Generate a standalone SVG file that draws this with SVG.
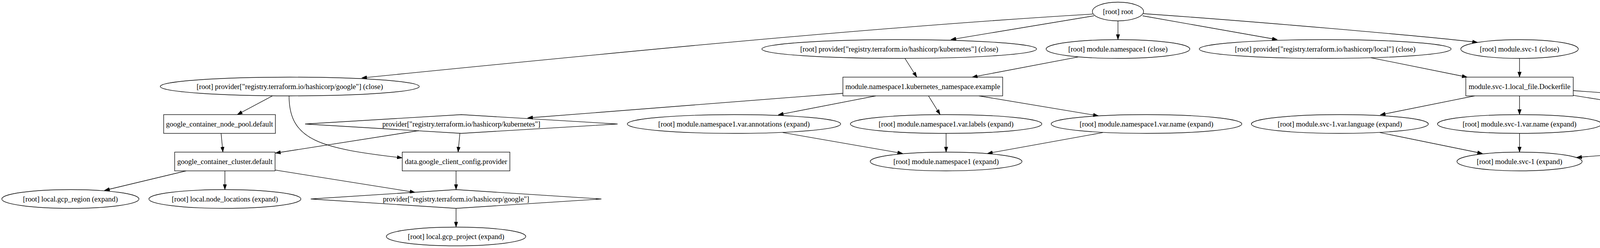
<svg xmlns="http://www.w3.org/2000/svg" width="5354" height="635" viewBox="0 0 5354 635">
<style>
.n ellipse,.n rect,.n polygon{fill:none;stroke:#000;stroke-width:1.33}
.n text{font-family:"Liberation Serif","Times New Roman",serif;font-size:18.67px;text-anchor:middle;fill:#000}
.e path{fill:none;stroke:#000;stroke-width:1.33;marker-end:url(#ah)}
</style>
<defs>
<marker id="ah" viewBox="0 0 10 7" refX="10" refY="3.5" markerWidth="13.3" markerHeight="9.3" markerUnits="userSpaceOnUse" orient="auto">
<path d="M0,0 L10,3.5 L0,7 z" fill="#000" stroke="#000" stroke-width="0.5"/>
</marker>
</defs>
<rect width="5354" height="635" fill="#fff"/>
<g id="edges" class="e">
<path d="M2797,36 C2197,72 1526,139.5 926,199.5"/>
<path d="M2800.5,40.5 L2434.3,101.3"/>
<path d="M2862,53.5 L2862,101.5"/>
<path d="M2925,40.5 L3270,101.5"/>
<path d="M2927,35 C3200,54 3650,92.6 3782.5,108.5"/>
<path d="M697.4,245.5 L607.3,293.5"/>
<path d="M740,245.5 C740,360 820,380 1029.7,404.2"/>
<path d="M566,341.5 L570.6,389.5"/>
<path d="M1072,334.5 L705,392"/>
<path d="M1177.3,341.5 L1172.7,389.5"/>
<path d="M476.4,437.5 L267.5,487.5"/>
<path d="M575.7,437.5 L575.7,485.5"/>
<path d="M704.3,435.4 L1062.4,492.5"/>
<path d="M1167.5,437.5 L1167.5,485.5"/>
<path d="M1167.5,533.5 L1167.5,581.5"/>
<path d="M2157.6,239 L1350.6,302"/>
<path d="M2316.6,149.5 L2347,197.5"/>
<path d="M2760.3,145.8 L2488.8,197.5"/>
<path d="M2242,245.5 L1992.3,294"/>
<path d="M2376.9,245.5 L2406.7,293.5"/>
<path d="M2506,245.5 L2811.9,296.5"/>
<path d="M2003.8,339.4 L2310.9,392.9"/>
<path d="M2422,341.5 L2422,389.5"/>
<path d="M2823.4,339.4 L2527.8,392.9"/>
<path d="M3509.4,147.8 L3756,197.5"/>
<path d="M3890,149.5 L3890,197.5"/>
<path d="M3775,245.5 L3533.5,294"/>
<path d="M3890,245.5 L3890,293.5"/>
<path d="M4027.6,244.2 L4377.8,300"/>
<path d="M4027.6,232 L4933.3,299"/>
<path d="M3532.4,339.4 L3795.2,393"/>
<path d="M3890,341.5 L3890,389.5"/>
<path d="M4936.2,334.5 L4036.3,403"/>
</g>
<g id="root" class="n"><ellipse cx="2862" cy="29.5" rx="65.5" ry="24"/><text x="2862" y="35.5">[root] root</text></g>
<g id="provider_google_close" class="n"><ellipse cx="741.8" cy="221.5" rx="331.5" ry="24"/><text x="741.8" y="227.5">[root] provider["registry.terraform.io/hashicorp/google"] (close)</text></g>
<g id="provider_kubernetes_close" class="n"><ellipse cx="2302" cy="125.5" rx="351.6" ry="24"/><text x="2302" y="131.5">[root] provider["registry.terraform.io/hashicorp/kubernetes"] (close)</text></g>
<g id="namespace1_close" class="n"><ellipse cx="2862" cy="125.5" rx="184" ry="24"/><text x="2862" y="131.5">[root] module.namespace1 (close)</text></g>
<g id="provider_local_close" class="n"><ellipse cx="3392.5" cy="125.5" rx="322.3" ry="24"/><text x="3392.5" y="131.5">[root] provider["registry.terraform.io/hashicorp/local"] (close)</text></g>
<g id="svc1_close" class="n"><ellipse cx="3890" cy="125.5" rx="150.4" ry="24"/><text x="3890" y="131.5">[root] module.svc-1 (close)</text></g>
<g id="node_pool" class="n"><rect x="419" y="293.5" width="286" height="48"/><text x="562" y="323.5">google_container_node_pool.default</text></g>
<g id="provider_kubernetes" class="n"><polygon points="1181,293.5 1581,317.5 1181,341.5 781,317.5"/><text x="1181" y="323.5">provider["registry.terraform.io/hashicorp/kubernetes"]</text></g>
<g id="var_annotations" class="n"><ellipse cx="1879" cy="317.5" rx="273" ry="24"/><text x="1879" y="323.5">[root] module.namespace1.var.annotations (expand)</text></g>
<g id="var_labels" class="n"><ellipse cx="2422" cy="317.5" rx="245" ry="24"/><text x="2422" y="323.5">[root] module.namespace1.var.labels (expand)</text></g>
<g id="var_name" class="n"><ellipse cx="2935" cy="317.5" rx="244" ry="24"/><text x="2935" y="323.5">[root] module.namespace1.var.name (expand)</text></g>
<g id="svc1_var_language" class="n"><ellipse cx="3430" cy="317.5" rx="226.5" ry="24"/><text x="3430" y="323.5">[root] module.svc-1.var.language (expand)</text></g>
<g id="svc1_var_name" class="n"><ellipse cx="3890" cy="317.5" rx="210" ry="24"/><text x="3890" y="323.5">[root] module.svc-1.var.name (expand)</text></g>
<g id="provider_local" class="n"><polygon points="4483,293.5 4841.7,317.5 4483,341.5 4124.3,317.5"/><text x="4483" y="323.5">provider["registry.terraform.io/hashicorp/local"]</text></g>
<g id="svc1_local_dockerfile" class="n"><ellipse cx="5107.5" cy="317.5" rx="240.2" ry="24"/><text x="5107.5" y="323.5">[root] module.svc-1.local.dockerfile (expand)</text></g>
<g id="namespace_example" class="n"><rect x="2157.8" y="197.5" width="409" height="48"/><text x="2362.3" y="227.5">module.namespace1.kubernetes_namespace.example</text></g>
<g id="dockerfile" class="n"><rect x="3752.5" y="197.5" width="275" height="48"/><text x="3890" y="227.5">module.svc-1.local_file.Dockerfile</text></g>
<g id="cluster" class="n"><rect x="447.2" y="389.5" width="257" height="48"/><text x="575.7" y="419.5">google_container_cluster.default</text></g>
<g id="client_config" class="n"><rect x="1029.7" y="389.5" width="275.6" height="48"/><text x="1167.5" y="419.5">data.google_client_config.provider</text></g>
<g id="namespace1_expand" class="n"><ellipse cx="2422" cy="413.5" rx="194.3" ry="24"/><text x="2422" y="419.5">[root] module.namespace1 (expand)</text></g>
<g id="svc1_expand" class="n"><ellipse cx="3890" cy="413.5" rx="160.2" ry="24"/><text x="3890" y="419.5">[root] module.svc-1 (expand)</text></g>
<g id="gcp_region" class="n"><ellipse cx="180.2" cy="509.5" rx="175.6" ry="24"/><text x="180.2" y="515.5">[root] local.gcp_region (expand)</text></g>
<g id="node_locations" class="n"><ellipse cx="575.7" cy="509.5" rx="194.6" ry="24"/><text x="575.7" y="515.5">[root] local.node_locations (expand)</text></g>
<g id="provider_google" class="n"><polygon points="1167.5,485.5 1539.5,509.5 1167.5,533.5 795.5,509.5"/><text x="1167.5" y="515.5">provider["registry.terraform.io/hashicorp/google"]</text></g>
<g id="gcp_project" class="n"><ellipse cx="1167.5" cy="605.5" rx="178.5" ry="24"/><text x="1167.5" y="611.5">[root] local.gcp_project (expand)</text></g>
</svg>
